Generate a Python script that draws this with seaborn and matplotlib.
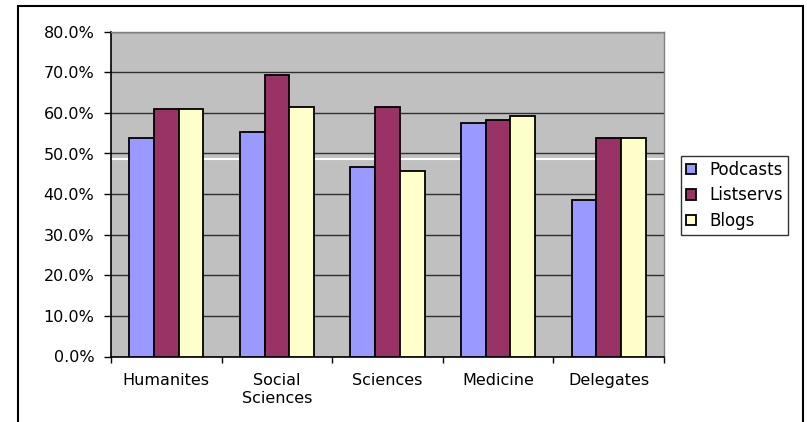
import numpy as np
import pandas as pd
import seaborn as sns
import matplotlib.pyplot as plt
from matplotlib.patches import Rectangle
from matplotlib.ticker import FuncFormatter

# values (percent)
categories = ['Humanites', 'Social\nSciences', 'Sciences', 'Medicine', 'Delegates']
series = ['Podcasts', 'Listservs', 'Blogs']
podcasts = [53.7, 55.4, 46.7, 57.4, 38.5]
listservs = [61.0, 69.3, 61.5, 58.3, 53.9]
blogs = [61.0, 61.5, 45.8, 59.2, 53.9]
ref_line = 48.6  # white horizontal line across the plot area
y_ticks = [0, 10, 20, 30, 40, 50, 60, 70, 80]

colors = {'Podcasts': '#9999FF', 'Listservs': '#993366', 'Blogs': '#FFFFCC'}

df = pd.DataFrame({
    'Category': categories * 3,
    'Series': ['Podcasts'] * 5 + ['Listservs'] * 5 + ['Blogs'] * 5,
    'Value': podcasts + listservs + blogs,
})

sns.set_style('white')
plt.rcParams['font.family'] = ['DejaVu Sans']

fig = plt.figure(figsize=(8.07, 4.22), dpi=100)
ax = fig.add_axes([111 / 807, 65.5 / 422, (664 - 111) / 807, (356.5 - 31.7) / 422])
ax.set_facecolor('#C0C0C0')

sns.barplot(data=df, x='Category', y='Value', hue='Series', hue_order=series,
            palette=colors, width=0.67, edgecolor='black', linewidth=1.3,
            saturation=1, ax=ax, zorder=3)

ax.axhline(ref_line, color='white', lw=1.5, zorder=2)

ax.set_ylim(0, 80)
ax.set_xlim(-0.5, 4.5)
ax.set_yticks(y_ticks)
ax.yaxis.set_major_formatter(FuncFormatter(lambda v, p: f'{v:.1f}%'))
ax.yaxis.grid(True, color='#303030', lw=1.0, zorder=1)
ax.set_axisbelow(True)
ax.tick_params(axis='y', direction='out', length=5, width=1, color='black',
               labelsize=11.5, labelcolor='black', pad=7, left=True)
ax.set_xticks(range(len(categories)))
ax.set_xticklabels(categories, fontsize=11.5, color='black', linespacing=1.25)
ax.set_xticks(np.arange(-0.5, 5, 1), minor=True)
ax.tick_params(axis='x', which='major', length=0, pad=12)
ax.tick_params(axis='x', which='minor', direction='out', length=4, width=1,
               color='black', bottom=True)
ax.set_xlabel('')
ax.set_ylabel('')

for side in ['left', 'bottom']:
    ax.spines[side].set_color('black')
    ax.spines[side].set_linewidth(1.2)
for side in ['top', 'right']:
    ax.spines[side].set_color('#808080')
    ax.spines[side].set_linewidth(1.0)

handles, labels = ax.get_legend_handles_labels()
ax.get_legend().remove()
leg = fig.legend(handles, labels, loc='upper left',
                 bbox_to_anchor=(681 / 807, 1 - 156 / 422),
                 frameon=True, fancybox=False, fontsize=12,
                 handlelength=0.6, handleheight=0.6, handletextpad=0.8,
                 labelspacing=0.45, borderpad=0.3, borderaxespad=0)
leg.get_frame().set_edgecolor('black')
leg.get_frame().set_linewidth(1.0)
for t in leg.get_texts():
    t.set_color('black')

# outer chart border
fig.patches.append(Rectangle((18 / 807, -0.05), (803 - 18) / 807, 1.05 - 6 / 422,
                             transform=fig.transFigure, fill=False,
                             edgecolor='black', lw=1.5))

fig.savefig('out.png', dpi=100, facecolor='white')
